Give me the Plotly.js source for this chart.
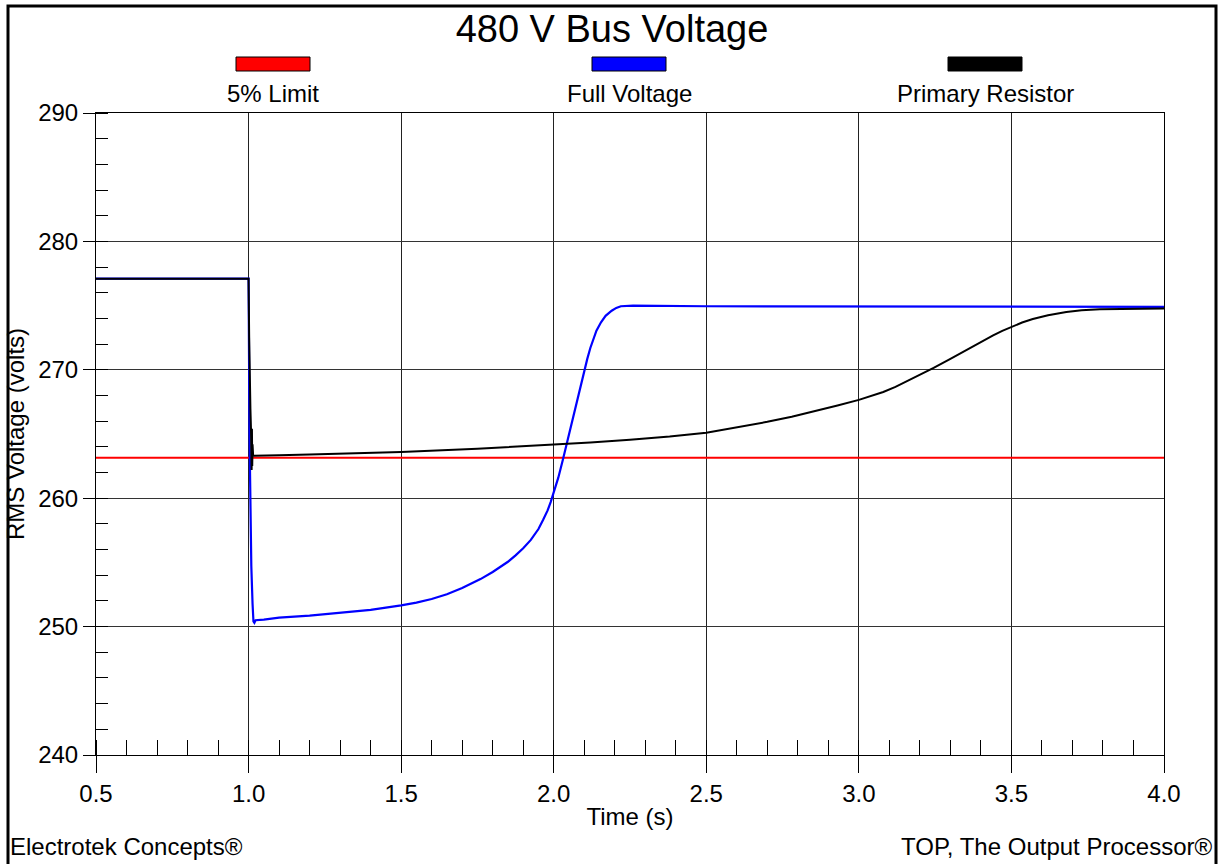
<!DOCTYPE html>
<html>
<head>
<meta charset="utf-8">
<script src="https://cdn.plot.ly/plotly-3.0.1.min.js"></script>
<style>
  html, body { margin: 0; padding: 0; background: #fff; }
  #chart { width: 1221px; height: 864px; }
</style>
</head>
<body>
<div id="chart"></div>
<script>
// ---- Data ----
const chartTitle = "480 V Bus Voltage";
const xTitle = "Time (s)";
const yTitle = "RMS Voltage (volts)";
const seriesNames = ["5% Limit", "Full Voltage", "Primary Resistor"];
const seriesColors = ["#ff0000", "#0000ff", "#000000"];
const footerLeft = "Electrotek Concepts®";
const footerRight = "TOP, The Output Processor®";

const limitTime = [0.5, 4.0];
const limitVolts = [263.15, 263.15];

const fullTime = [0.5, 0.99, 1.0, 1.003, 1.006, 1.009, 1.013, 1.016, 1.019, 1.023, 1.05, 1.1, 1.2, 1.3, 1.4,
  1.5, 1.55, 1.6, 1.65, 1.7, 1.73, 1.76, 1.8, 1.825, 1.85, 1.875, 1.9, 1.925, 1.95, 1.965, 1.98, 1.99,
  2.0, 2.015, 2.03, 2.045, 2.06, 2.075, 2.09, 2.10, 2.11, 2.12, 2.13, 2.14, 2.155, 2.17, 2.19, 2.205,
  2.22, 2.24, 2.26, 2.5, 3.0, 3.5, 4.0];
const fullVolts = [277.1, 277.1, 277.1, 265.0, 259.5, 254.7, 251.8, 250.4, 250.3, 250.5, 250.55, 250.7, 250.85, 251.05, 251.3,
  251.65, 251.87, 252.15, 252.52, 253.0, 253.35, 253.7, 254.25, 254.62, 255.05, 255.55, 256.1, 256.75, 257.6, 258.3, 259.05, 259.7,
  260.4, 261.6, 263.0, 264.5, 266.1, 267.6, 269.0, 269.95, 270.85, 271.7, 272.45, 273.05, 273.7, 274.2, 274.6, 274.82,
  274.95, 275.0, 275.0, 274.95, 274.93, 274.92, 274.9];

const resTime = [0.5, 0.99, 1.0, 1.002, 1.003, 1.004, 1.005, 1.006, 1.008, 1.009, 1.010, 1.011, 1.012, 1.013, 1.015, 1.02,
  1.1, 1.2, 1.3, 1.43, 1.5, 1.75, 2.0, 2.12, 2.25, 2.38, 2.5, 2.6, 2.7, 2.78, 2.86, 2.93, 3.0, 3.04, 3.08, 3.12,
  3.16, 3.2, 3.245, 3.3, 3.35, 3.4, 3.44, 3.47, 3.5, 3.535, 3.57, 3.62, 3.68, 3.73, 3.79, 3.9, 4.0];
const resVolts = [277.1, 277.1, 277.1, 272.5, 270.0, 272.2, 268.5, 267.0, 265.3, 263.5, 262.2, 265.4, 262.5, 264.2, 263.3, 263.3,
  263.35, 263.4, 263.45, 263.52, 263.6, 263.85, 264.14, 264.33, 264.55, 264.8, 265.1, 265.5, 265.95, 266.35, 266.8, 267.22, 267.66, 267.94, 268.27, 268.67,
  269.13, 269.6, 270.15, 270.85, 271.52, 272.18, 272.68, 273.03, 273.35, 273.68, 273.95, 274.25, 274.5, 274.64, 274.72, 274.77, 274.78];

// ---- Layout geometry (pixels -> paper) ----
const W = 1221, H = 864;
const M = { l: 96, r: 57, t: 113, b: 109 };
const PW = W - M.l - M.r, PH = H - M.t - M.b;
const px = x => (x - M.l) / PW;
const py = y => (H - M.b - y) / PH;

const FONT = "'Liberation Sans', Arial, Helvetica, sans-serif";

const traces = [
  { x: limitTime, y: limitVolts, name: seriesNames[0], mode: "lines", line: { color: seriesColors[0], width: 2 } },
  { x: fullTime, y: fullVolts, name: seriesNames[1], mode: "lines", line: { color: seriesColors[1], width: 2.2 } },
  { x: resTime, y: resVolts, name: seriesNames[2], mode: "lines", line: { color: seriesColors[2], width: 2 } }
];

// custom legend: swatch above text
const legendCenters = [273, 629, 985];
const shapes = [];
const annotations = [];
legendCenters.forEach((cx, i) => {
  shapes.push({
    type: "rect", xref: "paper", yref: "paper",
    x0: px(cx - 37), x1: px(cx + 37), y0: py(71), y1: py(57),
    fillcolor: seriesColors[i], line: { color: "#000", width: 1 }
  });
  annotations.push({
    xref: "paper", yref: "paper", x: px(cx), y: py(94), xanchor: "center", yanchor: "middle",
    text: seriesNames[i], showarrow: false, font: { family: FONT, size: 24, color: "#000" }
  });
});
// outer frame
shapes.push({
  type: "rect", xref: "paper", yref: "paper",
  x0: px(8), x1: px(1216), y0: py(875), y1: py(6),
  line: { color: "#000", width: 3 }, fillcolor: "rgba(0,0,0,0)"
});
annotations.push({
  xref: "paper", yref: "paper", x: px(8), y: py(846), xanchor: "left", yanchor: "middle",
  text: footerLeft, showarrow: false, font: { family: FONT, size: 24, color: "#000" }
});
annotations.push({
  xref: "paper", yref: "paper", x: px(1214), y: py(846), xanchor: "right", yanchor: "middle",
  text: footerRight, showarrow: false, font: { family: FONT, size: 24, color: "#000" }
});

const layout = {
  width: W, height: H,
  margin: M,
  paper_bgcolor: "#fff", plot_bgcolor: "#fff",
  showlegend: false,
  font: { family: FONT, size: 24, color: "#000" },
  title: {
    text: chartTitle, font: { family: FONT, size: 38, color: "#000" },
    xref: "paper", x: px(612), xanchor: "center",
    yref: "container", y: 1 - 29 / H, yanchor: "middle"
  },
  xaxis: {
    range: [0.5, 4.0], dtick: 0.5, tick0: 0.5, tickformat: ".1f",
    showgrid: true, gridcolor: "#222", gridwidth: 1,
    showline: true, linecolor: "#000", linewidth: 1, mirror: true,
    ticks: "outside", ticklen: 17, tickcolor: "#000", tickwidth: 1,
    tickfont: { family: FONT, size: 24, color: "#000" },
    minor: { dtick: 0.1, ticks: "inside", ticklen: 15, tickcolor: "#000", tickwidth: 1, showgrid: false },
    zeroline: false,
    title: { text: xTitle, font: { family: FONT, size: 24, color: "#000" }, standoff: 2 }
  },
  yaxis: {
    range: [240, 290], dtick: 10, tick0: 240,
    showgrid: true, gridcolor: "#333", gridwidth: 1,
    showline: true, linecolor: "#000", linewidth: 1, mirror: true,
    ticks: "outside", ticklen: 12, tickcolor: "#000", tickwidth: 1,
    tickfont: { family: FONT, size: 24, color: "#000" },
    minor: { dtick: 2, ticks: "inside", ticklen: 12, tickcolor: "#000", tickwidth: 1, showgrid: false },
    zeroline: false,
    title: { text: yTitle, font: { family: FONT, size: 24, color: "#000" }, standoff: 6 }
  },
  shapes: shapes,
  annotations: annotations
};

Plotly.newPlot("chart", traces, layout, { staticPlot: true, displayModeBar: false });
</script>
</body>
</html>
